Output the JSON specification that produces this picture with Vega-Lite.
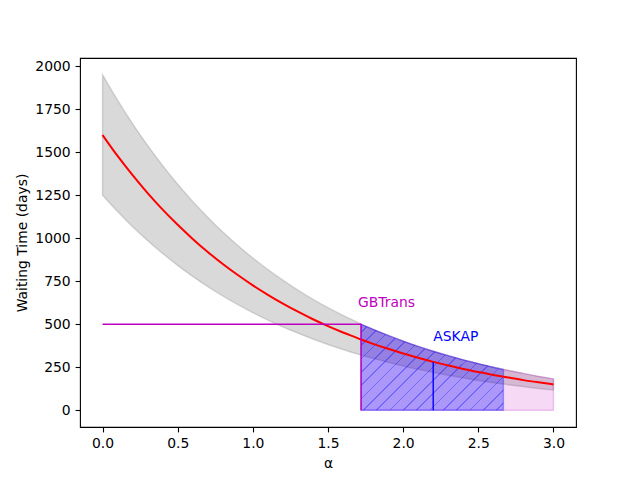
{
  "$schema": "https://vega.github.io/schema/vega-lite/v6.json",
  "autosize": {"type": "none"},
  "width": 496,
  "height": 369,
  "padding": {"left": 80, "top": 58, "right": 64, "bottom": 53},
  "background": "white",
  "config": {
    "view": {"stroke": "black", "strokeWidth": 1.1},
    "axis": {
      "grid": false,
      "domain": false,
      "tickColor": "black",
      "tickWidth": 1.1,
      "tickSize": 4.9,
      "labelPadding": 4.9,
      "labelFont": "DejaVu Sans",
      "labelFontSize": 13.9,
      "labelColor": "black",
      "titleFont": "DejaVu Sans",
      "titleFontSize": 13.9,
      "titleFontWeight": "normal",
      "titleColor": "black",
      "titlePadding": 5.6
    }
  },
  "datasets": {
    "curve": [
      {"alpha": 0.0, "wait": 1600, "lo": 1250, "hi": 1950},
      {"alpha": 0.1, "wait": 1478, "lo": 1155, "hi": 1802},
      {"alpha": 0.2, "wait": 1366, "lo": 1067, "hi": 1665},
      {"alpha": 0.3, "wait": 1262, "lo": 986, "hi": 1539},
      {"alpha": 0.4, "wait": 1166, "lo": 911, "hi": 1422},
      {"alpha": 0.5, "wait": 1078, "lo": 842, "hi": 1314},
      {"alpha": 0.6, "wait": 996, "lo": 778, "hi": 1214},
      {"alpha": 0.7, "wait": 920, "lo": 719, "hi": 1122},
      {"alpha": 0.8, "wait": 850, "lo": 664, "hi": 1036},
      {"alpha": 0.9, "wait": 786, "lo": 614, "hi": 958},
      {"alpha": 1.0, "wait": 726, "lo": 567, "hi": 885},
      {"alpha": 1.1, "wait": 671, "lo": 524, "hi": 818},
      {"alpha": 1.2, "wait": 620, "lo": 484, "hi": 756},
      {"alpha": 1.3, "wait": 573, "lo": 448, "hi": 698},
      {"alpha": 1.4, "wait": 529, "lo": 414, "hi": 645},
      {"alpha": 1.5, "wait": 489, "lo": 382, "hi": 596},
      {"alpha": 1.6, "wait": 452, "lo": 353, "hi": 551},
      {"alpha": 1.7, "wait": 418, "lo": 326, "hi": 509},
      {"alpha": 1.72, "wait": 411, "lo": 321, "hi": 500},
      {"alpha": 1.8, "wait": 386, "lo": 302, "hi": 470},
      {"alpha": 1.9, "wait": 357, "lo": 279, "hi": 435},
      {"alpha": 2.0, "wait": 330, "lo": 257, "hi": 402},
      {"alpha": 2.1, "wait": 305, "lo": 238, "hi": 371},
      {"alpha": 2.2, "wait": 281, "lo": 220, "hi": 343},
      {"alpha": 2.3, "wait": 260, "lo": 203, "hi": 317},
      {"alpha": 2.4, "wait": 240, "lo": 188, "hi": 293},
      {"alpha": 2.5, "wait": 222, "lo": 173, "hi": 271},
      {"alpha": 2.6, "wait": 205, "lo": 160, "hi": 250},
      {"alpha": 2.667, "wait": 195, "lo": 152, "hi": 237},
      {"alpha": 2.7, "wait": 190, "lo": 148, "hi": 231},
      {"alpha": 2.8, "wait": 175, "lo": 137, "hi": 214},
      {"alpha": 2.9, "wait": 162, "lo": 126, "hi": 197},
      {"alpha": 3.0, "wait": 150, "lo": 117, "hi": 182}
    ],
    "marks": [
      {"survey": "GBTrans", "a": 0.0, "a2": 1.72, "w": 500, "w2": 500},
      {"survey": "GBTrans", "a": 1.72, "a2": 1.72, "w": 0, "w2": 500},
      {"survey": "ASKAP", "a": 2.2, "a2": 2.2, "w": 0, "w2": 281}
    ],
    "labels": [
      {"survey": "GBTrans", "a": 1.7, "w": 600},
      {"survey": "ASKAP", "a": 2.2, "w": 400}
    ]
  },
  "encoding": {
    "x": {
      "type": "quantitative",
      "scale": {"domain": [-0.15, 3.15], "nice": false, "zero": false},
      "axis": {"values": [0, 0.5, 1, 1.5, 2, 2.5, 3], "format": ".1f", "title": "α"}
    },
    "y": {
      "type": "quantitative",
      "scale": {"domain": [-97.5, 2047.5], "nice": false, "zero": false},
      "axis": {"values": [0, 250, 500, 750, 1000, 1250, 1500, 1750, 2000], "format": "d", "title": "Waiting Time (days)"}
    }
  },
  "layer": [
    {
      "data": {"name": "curve"},
      "mark": {"type": "area", "color": "#808080", "fillOpacity": 0.3, "stroke": "#808080", "strokeOpacity": 0.3, "strokeWidth": 1.4, "interpolate": "monotone"},
      "encoding": {"x": {"field": "alpha"}, "y": {"field": "lo"}, "y2": {"field": "hi"}}
    },
    {
      "data": {"name": "curve"},
      "transform": [{"filter": "datum.alpha >= 1.72"}],
      "mark": {"type": "area", "color": "#bf00bf", "fillOpacity": 0.15, "stroke": "#bf00bf", "strokeOpacity": 0.2, "strokeWidth": 1.4, "interpolate": "monotone"},
      "encoding": {"x": {"field": "alpha"}, "y": {"field": "hi"}, "y2": {"datum": 0}}
    },
    {
      "data": {"name": "curve"},
      "transform": [{"filter": "datum.alpha >= 1.72 && datum.alpha <= 2.667"}],
      "mark": {
        "type": "area",
        "interpolate": "monotone",
        "fillOpacity": 1,
        "stroke": "#0000ff",
        "strokeOpacity": 0.3,
        "strokeWidth": 1.4,
        "fill": {
          "gradient": "linear",
          "x1": 0, "y1": 0, "x2": 1.175, "y2": 0.712,
          "stops": [
            {"offset": 0, "color": "rgba(0,0,255,0.3)"},
            {"offset": 0.0321, "color": "rgba(0,0,255,0.3)"}, {"offset": 0.0321, "color": "rgba(0,0,255,0.52)"}, {"offset": 0.0391, "color": "rgba(0,0,255,0.52)"}, {"offset": 0.0391, "color": "rgba(0,0,255,0.3)"},
            {"offset": 0.0905, "color": "rgba(0,0,255,0.3)"}, {"offset": 0.0905, "color": "rgba(0,0,255,0.52)"}, {"offset": 0.0975, "color": "rgba(0,0,255,0.52)"}, {"offset": 0.0975, "color": "rgba(0,0,255,0.3)"},
            {"offset": 0.1489, "color": "rgba(0,0,255,0.3)"}, {"offset": 0.1489, "color": "rgba(0,0,255,0.52)"}, {"offset": 0.1559, "color": "rgba(0,0,255,0.52)"}, {"offset": 0.1559, "color": "rgba(0,0,255,0.3)"},
            {"offset": 0.2072, "color": "rgba(0,0,255,0.3)"}, {"offset": 0.2072, "color": "rgba(0,0,255,0.52)"}, {"offset": 0.2142, "color": "rgba(0,0,255,0.52)"}, {"offset": 0.2142, "color": "rgba(0,0,255,0.3)"},
            {"offset": 0.2656, "color": "rgba(0,0,255,0.3)"}, {"offset": 0.2656, "color": "rgba(0,0,255,0.52)"}, {"offset": 0.2726, "color": "rgba(0,0,255,0.52)"}, {"offset": 0.2726, "color": "rgba(0,0,255,0.3)"},
            {"offset": 0.3240, "color": "rgba(0,0,255,0.3)"}, {"offset": 0.3240, "color": "rgba(0,0,255,0.52)"}, {"offset": 0.3310, "color": "rgba(0,0,255,0.52)"}, {"offset": 0.3310, "color": "rgba(0,0,255,0.3)"},
            {"offset": 0.3824, "color": "rgba(0,0,255,0.3)"}, {"offset": 0.3824, "color": "rgba(0,0,255,0.52)"}, {"offset": 0.3894, "color": "rgba(0,0,255,0.52)"}, {"offset": 0.3894, "color": "rgba(0,0,255,0.3)"},
            {"offset": 0.4408, "color": "rgba(0,0,255,0.3)"}, {"offset": 0.4408, "color": "rgba(0,0,255,0.52)"}, {"offset": 0.4478, "color": "rgba(0,0,255,0.52)"}, {"offset": 0.4478, "color": "rgba(0,0,255,0.3)"},
            {"offset": 0.4991, "color": "rgba(0,0,255,0.3)"}, {"offset": 0.4991, "color": "rgba(0,0,255,0.52)"}, {"offset": 0.5061, "color": "rgba(0,0,255,0.52)"}, {"offset": 0.5061, "color": "rgba(0,0,255,0.3)"},
            {"offset": 0.5575, "color": "rgba(0,0,255,0.3)"}, {"offset": 0.5575, "color": "rgba(0,0,255,0.52)"}, {"offset": 0.5645, "color": "rgba(0,0,255,0.52)"}, {"offset": 0.5645, "color": "rgba(0,0,255,0.3)"},
            {"offset": 0.6159, "color": "rgba(0,0,255,0.3)"}, {"offset": 0.6159, "color": "rgba(0,0,255,0.52)"}, {"offset": 0.6229, "color": "rgba(0,0,255,0.52)"}, {"offset": 0.6229, "color": "rgba(0,0,255,0.3)"},
            {"offset": 0.6743, "color": "rgba(0,0,255,0.3)"}, {"offset": 0.6743, "color": "rgba(0,0,255,0.52)"}, {"offset": 0.6813, "color": "rgba(0,0,255,0.52)"}, {"offset": 0.6813, "color": "rgba(0,0,255,0.3)"},
            {"offset": 0.7326, "color": "rgba(0,0,255,0.3)"}, {"offset": 0.7326, "color": "rgba(0,0,255,0.52)"}, {"offset": 0.7396, "color": "rgba(0,0,255,0.52)"}, {"offset": 0.7396, "color": "rgba(0,0,255,0.3)"},
            {"offset": 0.7910, "color": "rgba(0,0,255,0.3)"}, {"offset": 0.7910, "color": "rgba(0,0,255,0.52)"}, {"offset": 0.7980, "color": "rgba(0,0,255,0.52)"}, {"offset": 0.7980, "color": "rgba(0,0,255,0.3)"},
            {"offset": 0.8494, "color": "rgba(0,0,255,0.3)"}, {"offset": 0.8494, "color": "rgba(0,0,255,0.52)"}, {"offset": 0.8564, "color": "rgba(0,0,255,0.52)"}, {"offset": 0.8564, "color": "rgba(0,0,255,0.3)"},
            {"offset": 0.9078, "color": "rgba(0,0,255,0.3)"}, {"offset": 0.9078, "color": "rgba(0,0,255,0.52)"}, {"offset": 0.9148, "color": "rgba(0,0,255,0.52)"}, {"offset": 0.9148, "color": "rgba(0,0,255,0.3)"},
            {"offset": 0.9661, "color": "rgba(0,0,255,0.3)"}, {"offset": 0.9661, "color": "rgba(0,0,255,0.52)"}, {"offset": 0.9731, "color": "rgba(0,0,255,0.52)"}, {"offset": 0.9731, "color": "rgba(0,0,255,0.3)"},
            {"offset": 1, "color": "rgba(0,0,255,0.3)"}
          ]
        }
      },
      "encoding": {"x": {"field": "alpha"}, "y": {"field": "hi"}, "y2": {"datum": 0}}
    },
    {
      "data": {"name": "curve"},
      "mark": {"type": "line", "color": "#ff0000", "strokeWidth": 2, "interpolate": "monotone"},
      "encoding": {"x": {"field": "alpha"}, "y": {"field": "wait"}}
    },
    {
      "data": {"name": "marks"},
      "mark": {"type": "rule", "strokeWidth": 1.4},
      "encoding": {
        "x": {"field": "a"},
        "x2": {"field": "a2"},
        "y": {"field": "w"},
        "y2": {"field": "w2"},
        "color": {"field": "survey", "type": "nominal", "scale": {"domain": ["GBTrans", "ASKAP"], "range": ["#bf00bf", "#0000ff"]}, "legend": null}
      }
    },
    {
      "data": {"name": "labels"},
      "mark": {"type": "text", "align": "left", "baseline": "alphabetic", "font": "DejaVu Sans", "fontSize": 13.9},
      "encoding": {
        "x": {"field": "a"},
        "y": {"field": "w"},
        "text": {"field": "survey"},
        "color": {"field": "survey", "type": "nominal", "scale": {"domain": ["GBTrans", "ASKAP"], "range": ["#bf00bf", "#0000ff"]}, "legend": null}
      }
    }
  ]
}
